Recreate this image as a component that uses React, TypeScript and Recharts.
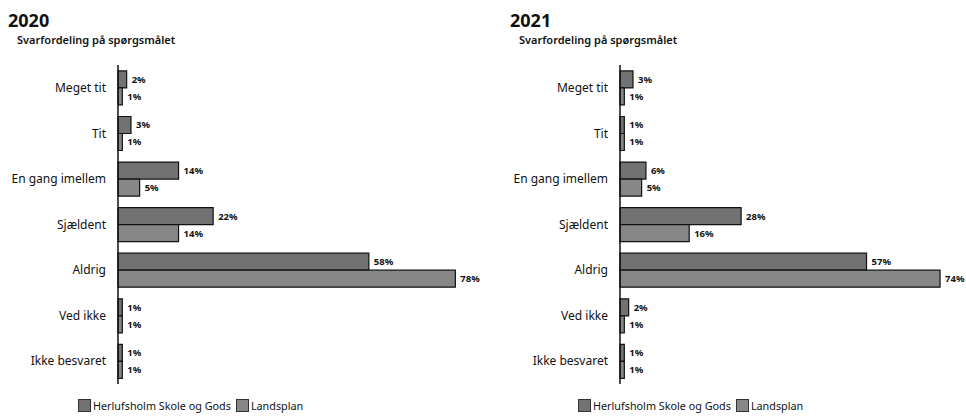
import { Bar, BarChart, LabelList, Legend, XAxis, YAxis } from "recharts";

const categories = [
  "Meget tit",
  "Tit",
  "En gang imellem",
  "Sjældent",
  "Aldrig",
  "Ved ikke",
  "Ikke besvaret"
];

const herlufsholm2020 = [2, 3, 14, 22, 58, 1, 1];
const landsplan2020 = [1, 1, 5, 14, 78, 1, 1];
const herlufsholm2021 = [3, 1, 6, 28, 57, 2, 1];
const landsplan2021 = [1, 1, 5, 16, 74, 1, 1];

const seriesNames = ["Herlufsholm Skole og Gods", "Landsplan"];
const FONT = "'Noto Sans', 'Liberation Sans', sans-serif";
const FILLS = ["#727272", "#878787"];

function LegendBox({ x }: { x: number }) {
  return (
    <div
      style={{
        position: "absolute",
        left: x,
        top: 398,
        display: "flex",
        alignItems: "center",
        fontFamily: FONT,
        fontSize: 10.8,
        color: "#111",
        whiteSpace: "nowrap"
      }}
    >
      {seriesNames.map((name, i) => (
        <span key={name} style={{ display: "flex", alignItems: "center", marginRight: 5 }}>
          <span
            style={{
              display: "inline-block",
              width: 13,
              height: 13,
              background: FILLS[i],
              border: "1px solid #333",
              boxSizing: "border-box",
              marginRight: 2
            }}
          />
          {name}
        </span>
      ))}
    </div>
  );
}

function Panel({
  year,
  herlufsholm,
  landsplan,
  left,
  axisWidth,
  titleX,
  legendX
}: {
  year: string;
  herlufsholm: number[];
  landsplan: number[];
  left: number;
  axisWidth: number;
  titleX: number;
  legendX: number;
}) {
  const data = categories.map((c, i) => ({
    kategori: c,
    herlufsholm: herlufsholm[i],
    landsplan: landsplan[i]
  }));
  const labelStyle = { fontSize: 9.5, fontWeight: 700, fill: "#111", fontFamily: FONT };
  return (
    <div style={{ position: "absolute", left, top: 0, width: 483, height: 417 }}>
      <div
        style={{
          position: "absolute",
          left: titleX,
          top: 8,
          fontFamily: FONT,
          fontWeight: 700,
          fontSize: 18,
          color: "#111"
        }}
      >
        {year}
      </div>
      <div
        style={{
          position: "absolute",
          left: titleX + 9,
          top: 32,
          fontFamily: FONT,
          fontWeight: 600,
          fontSize: 11,
          color: "#111"
        }}
      >
        Svarfordeling på spørgsmålet
      </div>
      <BarChart
        width={483}
        height={417}
        data={data}
        layout="vertical"
        margin={{ top: 65, right: 483 - axisWidth - 346, bottom: 33, left: 0 }}
        barCategoryGap="13%"
        barGap={0}
      >
        <XAxis type="number" domain={[0, 80]} hide />
        <YAxis
          type="category"
          dataKey="kategori"
          width={axisWidth}
          axisLine={{ stroke: "#111", strokeWidth: 1.5 }}
          tickLine={false}
          tick={{ fontSize: 12, fill: "#111", fontFamily: FONT }}
          tickMargin={6}
        />
        <Bar
          dataKey="herlufsholm"
          name={seriesNames[0]}
          fill={FILLS[0]}
          stroke="#111"
          strokeWidth={1.2}
          isAnimationActive={false}
        >
          <LabelList
            dataKey="herlufsholm"
            position="right"
            offset={5}
            formatter={(v: any) => `${v}%`}
            style={labelStyle}
          />
        </Bar>
        <Bar
          dataKey="landsplan"
          name={seriesNames[1]}
          fill={FILLS[1]}
          stroke="#111"
          strokeWidth={1.2}
          isAnimationActive={false}
        >
          <LabelList
            dataKey="landsplan"
            position="right"
            offset={5}
            formatter={(v: any) => `${v}%`}
            style={labelStyle}
          />
        </Bar>
        <Legend content={() => null} />
      </BarChart>
      <LegendBox x={legendX} />
    </div>
  );
}

export default function App() {
  return (
    <div
      style={{
        position: "absolute",
        left: 0,
        top: 0,
        width: 966,
        height: 417,
        background: "#fff"
      }}
    >
      <Panel
        year="2020"
        herlufsholm={herlufsholm2020}
        landsplan={landsplan2020}
        left={0}
        axisWidth={118}
        titleX={8}
        legendX={78}
      />
      <Panel
        year="2021"
        herlufsholm={herlufsholm2021}
        landsplan={landsplan2021}
        left={483}
        axisWidth={137}
        titleX={27}
        legendX={95}
      />
    </div>
  );
}
